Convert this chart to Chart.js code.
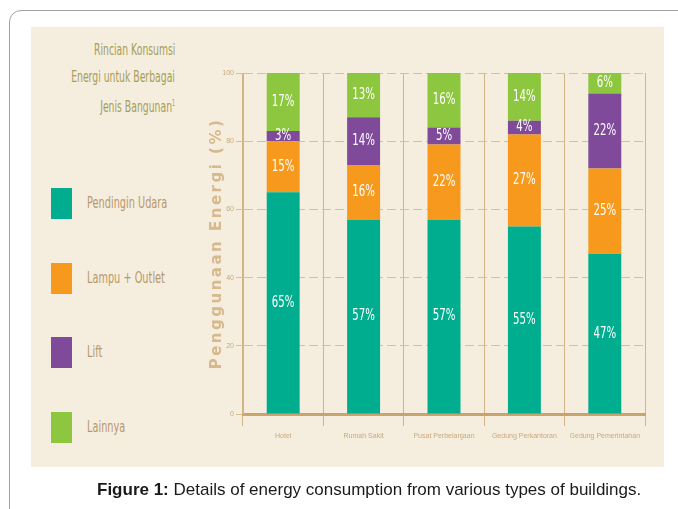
<!DOCTYPE html>
<html>
<head>
<meta charset="utf-8">
<script src="https://cdn.jsdelivr.net/npm/chart.js@4/dist/chart.umd.min.js"></script>
<style>
  html, body { margin: 0; padding: 0; background: #fff; }
  body {
    width: 678px; height: 509px; position: relative; overflow: hidden;
    font-family: "DejaVu Sans", sans-serif;
  }
  .frame {
    position: absolute; left: 9px; top: 10px; width: 720px; height: 560px;
    border: 1px solid #a3a3a3; border-radius: 12px;
  }
  .panel {
    position: absolute; left: 31px; top: 27px; width: 633px; height: 440px;
    background: #f5eedf;
  }
  .title {
    position: absolute; right: 503px; top: 36px; text-align: right;
    color: #a69d55; font-size: 16px; line-height: 27px; white-space: nowrap;
  }
  .title span { display: inline-block; transform: scaleX(0.58); transform-origin: right center; }
  .title sup { font-size: 8px; }
  .legend { position: absolute; left: 51px; top: 0; }
  .legend div { position: absolute; left: 0; white-space: nowrap; color: #b8976a; font-size: 16px; }
  .legend i { position: absolute; left: 0; top: 0; width: 21px; height: 31px; }
  .legend b {
    position: absolute; left: 36px; top: 5px; font-weight: normal;
    display: inline-block; transform: scaleX(0.61); transform-origin: left center;
  }
  .wrap { position: absolute; left: 0; top: 0; width: 678px; height: 509px; }
  .caption {
    position: absolute; left: 97px; top: 480px; white-space: nowrap;
    font-family: "Liberation Sans", Arial, sans-serif; font-size: 17px; color: #1a1a1a;
  }
</style>
</head>
<body>
<div class="frame"></div>
<div class="panel"></div>
<div class="title"><span>Rincian Konsumsi</span><br><span>Energi untuk Berbagai</span><br><span>Jenis Bangunan<sup>1</sup></span></div>
<div class="legend" id="legend"></div>
<div class="wrap"><canvas id="myChart" width="678" height="509"></canvas></div>
<div class="caption"><b>Figure 1:</b> Details of energy consumption from various types of buildings.</div>

<script>
const buildings = ["Hotel", "Rumah Sakit", "Pusat Perbelanjaan", "Gedung Perkantoran", "Gedung Pemerintahan"];
const seriesNames = ["Pendingin Udara", "Lampu + Outlet", "Lift", "Lainnya"];
const seriesColors = ["#00ae8f", "#f7991c", "#7f4a9a", "#8dc63f"];
const pendingin = [65, 57, 57, 55, 47];
const lampu = [15, 16, 22, 27, 25];
const lift = [3, 14, 5, 4, 22];
const lainnya = [17, 13, 16, 14, 6];
const yTicks = [0, 20, 40, 60, 80, 100];
const yTitle = "Penggunaan Energi (%)";

const tan = "#c9a46c";

// legend on the left (html)
const legendTops = [188, 263, 337, 412];
const legendBox = document.getElementById("legend");
seriesNames.forEach(function (name, i) {
  const item = document.createElement("div");
  item.style.top = legendTops[i] + "px";
  item.innerHTML = '<i style="background:' + seriesColors[i] + '"></i><b>' + name + "</b>";
  legendBox.appendChild(item);
});

// white % labels inside each segment (squeezed to look condensed)
const segmentLabels = {
  id: "segmentLabels",
  afterDatasetsDraw(chart) {
    const c = chart.ctx;
    chart.data.datasets.forEach(function (ds, i) {
      chart.getDatasetMeta(i).data.forEach(function (bar, j) {
        c.save();
        c.translate(bar.x, (bar.y + bar.base) / 2);
        c.scale(0.68, 1);
        c.fillStyle = "#fff";
        c.font = '15px "DejaVu Sans", sans-serif';
        c.textAlign = "center";
        c.textBaseline = "middle";
        c.fillText(ds.data[j] + "%", 0, 0);
        c.restore();
      });
    });
  }
};

// spaced-out y axis title
const axisTitle = {
  id: "axisTitle",
  afterDraw(chart) {
    const c = chart.ctx;
    const area = chart.chartArea;
    c.save();
    c.translate(chart.scales.y.left + 17, (area.top + area.bottom) / 2);
    c.rotate(-Math.PI / 2);
    c.fillStyle = "#d6b98c";
    c.font = 'bold 15px "DejaVu Sans", sans-serif';
    c.letterSpacing = "2.5px";
    c.textAlign = "center";
    c.textBaseline = "middle";
    c.fillText(yTitle, 0, 0);
    c.restore();
  }
};

const ctx = document.getElementById("myChart");
const allData = [pendingin, lampu, lift, lainnya];

new Chart(ctx, {
  type: "bar",
  data: {
    labels: buildings,
    datasets: seriesNames.map(function (name, i) {
      return {
        label: name,
        data: allData[i],
        backgroundColor: seriesColors[i],
        borderWidth: 0,
        barPercentage: 0.41,
        categoryPercentage: 1
      };
    })
  },
  options: {
    responsive: false,
    animation: false,
    layout: { padding: { left: 200, top: 73, right: 33, bottom: 0 } },
    plugins: { legend: { display: false }, tooltip: { enabled: false } },
    scales: {
      x: {
        stacked: true,
        afterFit: function (scale) { scale.height = 95; },
        grid: { color: "#d2b584", lineWidth: 1, offset: true, tickLength: 12 },
        border: { color: tan, width: 3 },
        ticks: {
          color: "#c9a978",
          font: { size: 7, family: '"Liberation Sans", sans-serif' },
          padding: 6,
          autoSkip: false,
          maxRotation: 0
        }
      },
      y: {
        stacked: true,
        min: 0,
        max: 100,
        afterFit: function (scale) { scale.width = 43; },
        afterBuildTicks: function (scale) {
          scale.ticks = yTicks.map(function (v) { return { value: v }; });
        },
        grid: { color: "#d8c095", lineWidth: 1, tickLength: 7 },
        border: { color: "#d2b584", width: 1, dash: [9, 4] },
        ticks: {
          color: "#c9a978",
          font: { size: 7, family: '"Liberation Sans", sans-serif' },
          padding: 2
        }
      }
    }
  },
  plugins: [segmentLabels, axisTitle]
});
</script>
</body>
</html>
